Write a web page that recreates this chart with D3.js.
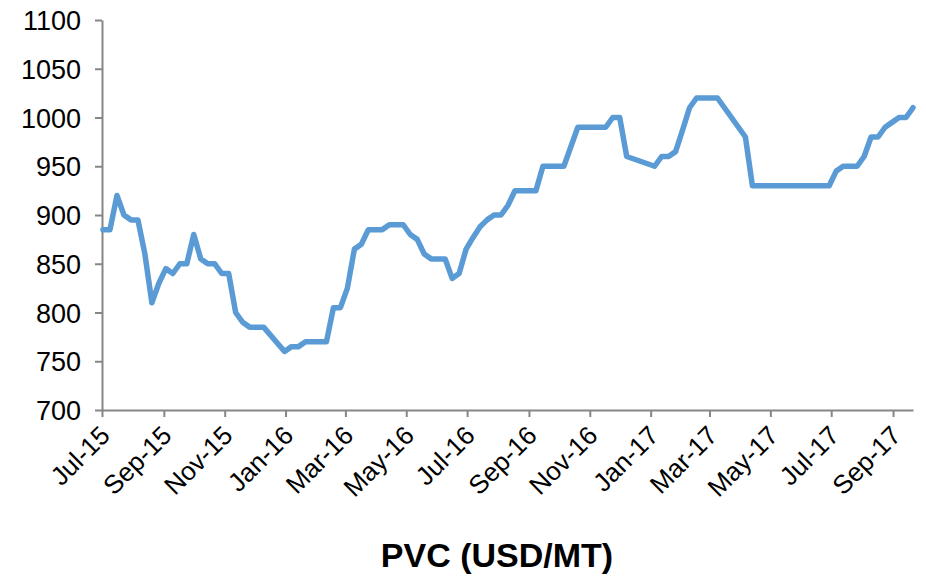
<!DOCTYPE html>
<html>
<head>
<meta charset="utf-8">
<script src="https://cdn.jsdelivr.net/npm/d3@7"></script>
<style>
  html, body { margin: 0; padding: 0; background: #fff; }
  svg { display: block; font-family: "Liberation Sans", Arial, sans-serif; }
  .axis path, .axis line { stroke: #868686; stroke-width: 2px; }
</style>
</head>
<body>
<svg id="chart" width="926" height="577"></svg>
<script>
// PVC weekly price (USD/MT), vertices
const dates = [
  "2015-07-02","2015-07-09","2015-07-16","2015-07-23","2015-07-30","2015-08-06","2015-08-13","2015-08-20",
  "2015-08-27","2015-09-03","2015-09-10","2015-09-17","2015-09-24","2015-10-01","2015-10-08","2015-10-15",
  "2015-10-22","2015-10-29","2015-11-05","2015-11-12","2015-11-19","2015-11-26","2015-12-10","2015-12-31","2016-01-07",
  "2016-01-14","2016-01-21","2016-02-11","2016-02-18","2016-02-25","2016-03-03","2016-03-10","2016-03-17",
  "2016-03-24","2016-04-07","2016-04-14","2016-04-28","2016-05-05","2016-05-12","2016-05-19","2016-05-26",
  "2016-06-09","2016-06-16","2016-06-23","2016-06-30","2016-07-07","2016-07-14","2016-07-21","2016-07-28",
  "2016-08-04","2016-08-11","2016-08-18","2016-09-08","2016-09-15","2016-10-06","2016-10-13","2016-10-20",
  "2016-11-17","2016-11-24","2016-12-01","2016-12-08","2017-01-05","2017-01-12","2017-01-19","2017-01-26",
  "2017-02-02","2017-02-09","2017-02-16","2017-03-09","2017-03-16","2017-03-23","2017-03-30","2017-04-06",
  "2017-04-13","2017-06-29","2017-07-06","2017-07-13","2017-07-27","2017-08-03","2017-08-10","2017-08-17",
  "2017-08-24","2017-08-31","2017-09-07","2017-09-14","2017-09-21"
];
const prices = [
  885, 885, 920, 900, 895, 895, 860, 810,
  830, 845, 840, 850, 850, 880, 855, 850,
  850, 840, 840, 800, 790, 785, 785, 760, 765,
  765, 770, 770, 805, 805, 825, 865, 870,
  885, 885, 890, 890, 880, 875, 860, 855,
  855, 835, 840, 865, 877, 888, 895, 900,
  900, 910, 925, 925, 950, 950, 970, 990,
  990, 1000, 1000, 960, 950, 960, 960, 965,
  987, 1010, 1020, 1020, 1010, 1000, 990, 980,
  930, 930, 945, 950, 950, 960, 980, 980,
  990, 995, 1000, 1000, 1010
];
const yTicks = [700, 750, 800, 850, 900, 950, 1000, 1050, 1100];
const xTickDates = ["2015-07-01","2015-09-01","2015-11-01","2016-01-01","2016-03-01","2016-05-01",
  "2016-07-01","2016-09-01","2016-11-01","2017-01-01","2017-03-01","2017-05-01","2017-07-01","2017-09-01"];
const chartTitle = "PVC (USD/MT)";

const parse = d3.timeParse("%Y-%m-%d");
const data = dates.map((d, i) => ({ date: parse(d), value: prices[i] }));

const svg = d3.select("#chart");
const plotLeft = 102, plotRight = 913, plotTop = 20, plotBottom = 410;

const x = d3.scaleTime()
  .domain([parse("2015-07-01"), parse("2017-09-21")])
  .range([plotLeft, plotRight]);
const y = d3.scaleLinear().domain([700, 1100]).range([plotBottom, plotTop]);

// y axis
const yAxis = svg.append("g")
  .attr("class", "axis")
  .attr("transform", `translate(${plotLeft},0)`)
  .call(d3.axisLeft(y).tickValues(yTicks).tickFormat(d3.format("d"))
    .tickSize(7).tickPadding(14).tickSizeOuter(0));
yAxis.attr("font-family", null).attr("font-size", null);
yAxis.selectAll("text")
  .attr("dy", "0.36em")
  .style("font-size", "27px")
  .style("fill", "#000");

// x axis
const xAxis = svg.append("g")
  .attr("class", "axis")
  .attr("transform", `translate(0,${plotBottom})`)
  .call(d3.axisBottom(x)
    .tickValues(xTickDates.map(parse))
    .tickFormat(d3.timeFormat("%b-%y"))
    .tickSize(7)
    .tickSizeOuter(0));
xAxis.attr("font-family", null).attr("font-size", null);
xAxis.selectAll("text")
  .attr("text-anchor", "end")
  .attr("dy", 0)
  .attr("y", 0)
  .style("font-size", "26px")
  .style("fill", "#000")
  .attr("transform", "translate(9,27) rotate(-45)");

// price line
svg.append("path")
  .datum(data)
  .attr("fill", "none")
  .attr("stroke", "#5B9BD5")
  .attr("stroke-width", 5.5)
  .attr("stroke-linejoin", "round")
  .attr("stroke-linecap", "round")
  .attr("d", d3.line().x(d => x(d.date)).y(d => y(d.value)));

// title
svg.append("text")
  .attr("x", 497)
  .attr("y", 567)
  .attr("text-anchor", "middle")
  .style("font-size", "34px")
  .style("font-weight", "bold")
  .text(chartTitle);
</script>
</body>
</html>
